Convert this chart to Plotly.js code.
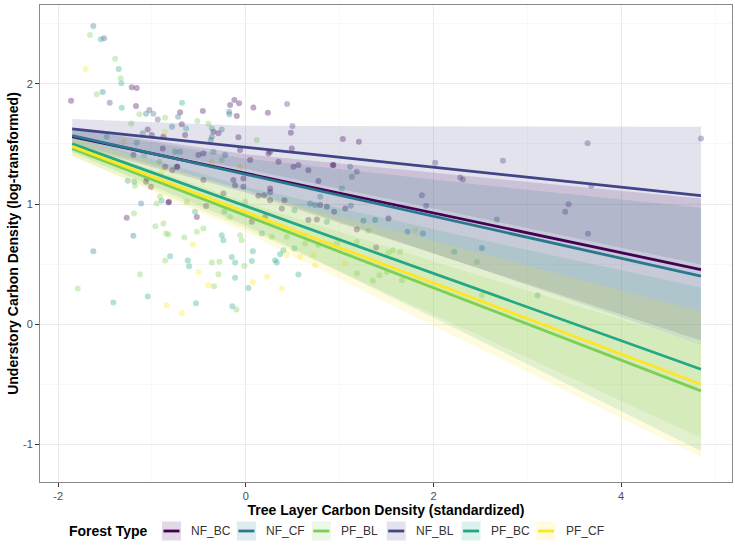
<!DOCTYPE html>
<html>
<head>
<meta charset="utf-8">
<script src="https://cdn.plot.ly/plotly-3.0.1.min.js"></script>
<style>html,body{margin:0;padding:0;background:#fff;}#chart{width:735px;height:545px;}</style>
</head>
<body>
<div id="chart"></div>
<script>
// ---- categories (legend order) ----
const forestTypes = ['NF_BC', 'NF_CF', 'PF_BL', 'NF_BL', 'PF_BC', 'PF_CF'];
// draw order (factor order)
const drawOrder = ['NF_BC', 'NF_BL', 'NF_CF', 'PF_BC', 'PF_BL', 'PF_CF'];
const legendTitle = 'Forest Type';

// ---- observed points ----
const nfbcX = [-1.215,-1.162,-1.862,-1.170,-0.700,-0.682,-1.045,-1.002,-0.878,-0.885,-0.647,-1.198,-0.860,-0.783,-0.729,-1.055,-0.458,-0.345,-0.292,-0.167,-0.122,-0.071,-0.096,0.081,0.235,0.480,-0.079,-0.061,0.046,0.241,0.259,0.490,0.348,0.507,0.561,0.667,0.934,-0.505,-0.452,-0.736,-1.010,-1.063,-0.825,-0.522,-0.452,-0.132,-0.026,-0.114,-0.026,-0.239,0.259,0.259,0.195,0.134,0.259,0.412,0.384,0.206,0.064,-0.423,0.792,0.774,0.864,0.667,0.757,-1.269,-0.818,1.034,1.205,0.928,1.059,0.941,1.520,1.183,1.389];
const nfbcY = [1.971,1.965,1.859,1.815,1.763,1.663,1.621,1.574,1.560,1.463,1.574,1.407,1.310,1.282,1.310,1.213,1.774,1.601,1.588,1.823,1.865,1.838,1.732,1.804,1.759,1.593,1.555,1.449,1.366,1.421,1.435,1.463,1.351,1.310,1.324,1.282,1.324,1.407,1.421,1.310,1.143,1.185,1.013,0.893,1.199,1.199,1.213,1.157,1.143,1.088,1.130,1.097,1.074,1.068,1.032,1.032,0.963,0.893,0.852,0.983,0.991,1.191,0.977,0.866,0.872,0.885,1.018,1.540,1.518,1.324,0.963,0.935,0.880,0.789,0.639];

const nfblX = [-1.511,-1.450,-1.028,-0.938,0.440,0.497,1.183,2.018,2.285,2.313,2.740,1.876,1.922,3.642,4.851,3.681,3.439,3.404,3.646];
const nfblY = [2.379,1.843,1.782,1.704,1.832,1.649,1.268,1.343,1.221,1.205,1.360,1.074,0.985,1.505,1.546,1.152,0.999,0.935,0.752];

const nfcfX = [-1.625,-1.525,-1.063,-0.985,-0.722,-0.786,-1.098,-0.256,-0.362,-0.373,-0.178,-0.175,-0.221,-1.116,0.686,0.739,-1.198,-1.625,1.112,1.130,1.119,1.254,1.378,1.723,1.887,2.676,2.516];
const nfcfY = [2.481,1.932,1.751,1.751,1.726,1.643,1.588,1.621,1.560,1.532,1.768,1.746,1.407,1.005,1.005,0.991,0.735,0.608,1.310,1.226,0.985,0.860,0.866,0.769,0.755,0.872,0.635];

const pfbcX = [-1.546,-1.354,-1.326,-1.322,-0.679,-0.636,-1.162,-1.482,-0.754,-0.700,-0.362,-0.345,-1.188,-1.258,-0.228,-0.541,0.518,0.864,0.792,0.171,-0.807,-0.618,-0.604,-1.412,-1.045,-0.530,-0.143,0.028,-0.896,-0.256,-0.239,-0.149,-0.114,0.075,0.064,0.312,0.330,0.366,0.401,0.518,-0.114,0.561,1.023,2.221,3.109];
const pfbcY = [2.371,2.123,2.004,1.801,1.843,1.629,1.510,1.560,1.435,1.435,1.629,1.435,1.185,1.193,0.935,0.935,0.949,0.852,1.060,0.755,0.566,0.530,0.483,0.181,0.231,0.175,0.150,0.302,1.027,0.741,0.699,0.560,0.514,0.608,0.525,0.533,0.514,0.583,0.616,0.630,0.386,0.414,1.130,0.602,0.239];

const pfblX = [-1.660,-1.393,-1.333,-1.588,-1.134,-0.860,-1.220,-1.081,-0.921,-0.399,-0.516,0.117,-0.256,-0.914,-0.949,-0.167,-0.007,0.277,0.437,-1.191,-0.964,-0.878,-0.850,-0.825,-0.655,-0.860,-1.127,-1.791,-0.629,-0.338,-0.100,-1.180,-0.522,-0.452,-0.061,-0.043,-0.362,-0.281,-0.015,-0.292,0.632,0.774,1.307,1.520,1.567,1.645,2.463,1.183,1.354,1.424,1.503,1.663,2.516,1.183,0.970];
const pfblY = [2.406,2.209,2.046,1.913,1.746,1.718,1.671,1.407,1.351,1.671,1.690,1.532,1.366,1.060,1.005,0.893,1.018,0.727,0.727,0.922,0.816,0.838,0.755,0.747,0.722,0.530,0.414,0.297,1.018,0.316,0.122,1.152,0.769,0.797,0.741,0.699,0.514,0.519,0.485,0.416,0.672,0.658,0.777,0.594,0.616,0.602,0.519,0.422,0.361,0.408,0.435,0.366,0.241,0.685,0.672];

const pfcfX = [-1.706,-0.860,-1.305,-0.896,-0.362,-0.061,-0.565,-0.842,-0.682,-0.399,-0.505,0.075,0.224,0.384,0.437,0.579,0.721,0.739,1.805,1.059];
const pfcfY = [2.123,1.601,1.518,1.268,1.351,1.310,0.664,0.158,0.094,0.325,0.435,0.352,0.394,0.297,0.575,0.560,0.575,0.491,0.783,0.505];

// ---- fitted lines ----
const lineX = [-1.85, 4.85];
const nfbcLine = [1.56, 0.455];
const nfblLine = [1.625, 1.07];
const nfcfLine = [1.57, 0.40];
const pfbcLine = [1.50, -0.375];
const pfblLine = [1.46, -0.555];
const pfcfLine = [1.48, -0.50];

// ---- confidence ribbons ----
const ribbonX = [-1.85, 0, 2.5, 4.85];
const nfbcLower = [1.49, 1.095, 0.462, -0.135];
const nfbcUpper = [1.63, 1.415, 1.222, 1.045];
const nfblLower = [1.543, 1.292, 0.883, 0.497];
const nfblUpper = [1.707, 1.652, 1.645, 1.643];
const nfcfLower = [1.505, 1.117, 0.460, -0.170];
const nfcfUpper = [1.635, 1.377, 1.160, 0.970];
const pfbcLower = [1.43, 0.822, -0.138, -1.055];
const pfbcUpper = [1.57, 1.142, 0.702, 0.305];
const pfblLower = [1.40, 0.794, -0.098, -0.945];
const pfblUpper = [1.52, 1.014, 0.402, -0.165];
const pfcfLower = [1.40, 0.763, -0.207, -1.105];
const pfcfUpper = [1.56, 1.103, 0.593, 0.105];

// ---- ticks ----
const xTickVals = [-2, 0, 2, 4];
const xTickText = ['-2', '0', '2', '4'];
const yTickVals = [-1, 0, 1, 2];
const yTickText = ['-1', '0', '1', '2'];

// ---- styles ----
const colors = {NF_BC:'68,1,84', NF_BL:'65,68,135', NF_CF:'42,120,142', PF_BC:'34,168,132', PF_BL:'122,209,81', PF_CF:'253,231,37'};
const series = {
  NF_BC: {px:nfbcX, py:nfbcY, line:nfbcLine, lo:nfbcLower, up:nfbcUpper},
  NF_BL: {px:nfblX, py:nfblY, line:nfblLine, lo:nfblLower, up:nfblUpper},
  NF_CF: {px:nfcfX, py:nfcfY, line:nfcfLine, lo:nfcfLower, up:nfcfUpper},
  PF_BC: {px:pfbcX, py:pfbcY, line:pfbcLine, lo:pfbcLower, up:pfbcUpper},
  PF_BL: {px:pfblX, py:pfblY, line:pfblLine, lo:pfblLower, up:pfblUpper},
  PF_CF: {px:pfcfX, py:pfcfY, line:pfcfLine, lo:pfcfLower, up:pfcfUpper}
};

const traces = [];
drawOrder.forEach(g => {
  const s = series[g];
  traces.push({type:'scatter', mode:'markers', x:s.px, y:s.py, name:g, showlegend:false, hoverinfo:'skip',
    marker:{size:6, color:'rgb('+colors[g]+')', opacity:0.34, line:{width:0}}});
});
drawOrder.forEach(g => {
  const s = series[g];
  traces.push({type:'scatter', mode:'lines', x:ribbonX.concat(ribbonX.slice().reverse()),
    y:s.up.concat(s.lo.slice().reverse()), fill:'toself', fillcolor:'rgba('+colors[g]+',0.15)',
    line:{width:0}, showlegend:false, hoverinfo:'skip'});
});
drawOrder.forEach(g => {
  const s = series[g];
  traces.push({type:'scatter', mode:'lines', x:lineX, y:s.line, name:g, showlegend:false, hoverinfo:'skip',
    line:{color:'rgb('+colors[g]+')', width:2.8}});
});

// ---- page geometry (pixels) ----
const W = 735, H = 545, ML = 40, MR = 3, MT = 5, MB = 63;
const PW = W - ML - MR, PH = H - MT - MB;
const px2x = p => (p - ML) / PW;
const px2y = p => (H - MB - p) / PH;

// ggplot-style legend at the bottom, drawn with shapes + text annotations
const shapes = [];
const annotations = [];
const keyStart = 162, keyStep = 74.9, keySize = 19, keyTop = 521.5, legendMid = 531;
annotations.push({xref:'paper', yref:'paper', x:px2x(67), y:px2y(legendMid), xanchor:'left', yanchor:'middle',
  text:'<b>' + legendTitle + '</b>', showarrow:false, font:{family:'Liberation Sans, Arial, sans-serif', size:14, color:'#000'}});
forestTypes.forEach((g, i) => {
  const k0 = keyStart + i * keyStep;
  shapes.push({type:'rect', xref:'paper', yref:'paper', x0:px2x(k0), x1:px2x(k0 + keySize),
    y0:px2y(keyTop), y1:px2y(keyTop + keySize), fillcolor:'rgba('+colors[g]+',0.15)', line:{width:0}, layer:'above'});
  shapes.push({type:'line', xref:'paper', yref:'paper', x0:px2x(k0 + 1.5), x1:px2x(k0 + keySize - 1.5),
    y0:px2y(legendMid), y1:px2y(legendMid), line:{color:'rgb('+colors[g]+')', width:2.8}, layer:'above'});
  annotations.push({xref:'paper', yref:'paper', x:px2x(k0 + 27), y:px2y(legendMid), xanchor:'left', yanchor:'middle',
    text:g, showarrow:false, font:{family:'Liberation Sans, Arial, sans-serif', size:12, color:'#333'}});
});

const font = 'Liberation Sans, Arial, Helvetica, sans-serif';
const layout = {
  width:W, height:H,
  margin:{l:ML, r:MR, t:MT, b:MB},
  paper_bgcolor:'#fff', plot_bgcolor:'#fff',
  font:{family:font, color:'#4d4d4d', size:11},
  showlegend:false,
  shapes:shapes, annotations:annotations,
  xaxis:{range:[-2.193, 5.181], tickmode:'array', tickvals:xTickVals, ticktext:xTickText,
    showgrid:true, gridcolor:'#ebebeb', gridwidth:1, zeroline:false,
    showline:true, mirror:true, linecolor:'#8a8a8a', linewidth:1,
    ticks:'outside', ticklen:4, tickcolor:'#333', tickwidth:1,
    tickfont:{family:font, size:11, color:'#4d4d4d'},
    minor:{tickmode:'array', tickvals:[-1,1,3,5], showgrid:true, gridcolor:'#f3f3f3', gridwidth:0.6, ticks:''},
    title:{text:'Tree Layer Carbon Density (standardized)', font:{family:font, size:14, color:'#000', weight:'bold'}, standoff:2}},
  yaxis:{range:[-1.313, 2.656], tickmode:'array', tickvals:yTickVals, ticktext:yTickText,
    showgrid:true, gridcolor:'#ebebeb', gridwidth:1, zeroline:false,
    showline:true, mirror:true, linecolor:'#8a8a8a', linewidth:1,
    ticks:'outside', ticklen:4, tickcolor:'#333', tickwidth:1,
    tickfont:{family:font, size:11, color:'#4d4d4d'},
    minor:{tickmode:'array', tickvals:[-0.5,0.5,1.5,2.5], showgrid:true, gridcolor:'#f3f3f3', gridwidth:0.6, ticks:''},
    title:{text:'Understory Carbon Density (log-transformed)', font:{family:font, size:14, color:'#000', weight:'bold'}, standoff:1}}
};

Plotly.newPlot('chart', traces, layout, {staticPlot:true, displayModeBar:false});
</script>
</body>
</html>
